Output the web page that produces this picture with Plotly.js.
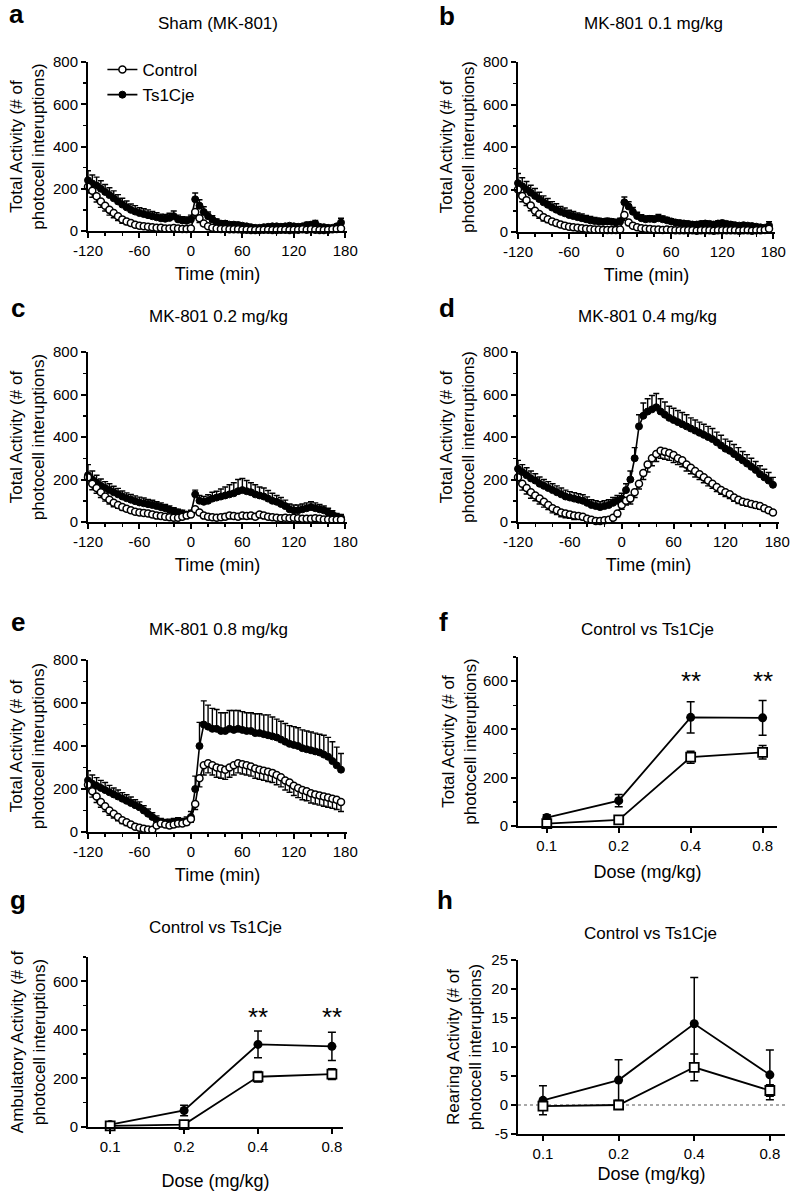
<!DOCTYPE html>
<html>
<head>
<meta charset="utf-8">
<script src="https://cdn.plot.ly/plotly-3.0.1.min.js"></script>
<style>html,body{margin:0;padding:0;background:#fff;}#chart{width:800px;height:1191px;}</style>
</head>
<body>
<div id="chart"></div>
<script>
// ---------- DATA ----------
const time = [-120,-115,-110,-105,-100,-95,-90,-85,-80,-75,
              -70,-65,-60,-55,-50,-45,-40,-35,-30,-25,
              -20,-15,-10,-5,0,5,10,15,20,25,
              30,35,40,45,50,55,60,65,70,75,
              80,85,90,95,100,105,110,115,120,125,
              130,135,140,145,150,155,160,165,170,175];
const timeTicks = [-120,-60,0,60,120,180];
const timeTickText = ['-120','-60','0','60','120','180'];

// a: Sham
const shamCtrl = [210,190,165,140,120,100,85,70,55,45, 38,30,25,22,20,18,15,15,12,12, 14,12,10,10,12,90,60,35,22,15, 12,10,10,8,8,8,6,6,5,5, 5,6,6,5,5,6,6,5,6,6, 8,6,8,6,5,5,6,8,10,12];
const shamCtrlErr = [30,30,28,28,25,25,22,20,18,15, 12,12,10,10,10,8,8,8,6,6, 6,6,5,5,5,30,20,12,8,6, 5,5,5,4,4,4,3,3,3,3, 3,3,3,3,3,3,3,3,3,3, 4,3,4,3,3,3,3,4,5,6];
const shamTs = [240,225,215,200,185,170,155,140,125,112, 100,92,85,80,75,70,65,60,58,62, 70,55,50,48,55,150,120,90,70,55, 42,35,35,30,30,28,25,22,18,15, 15,18,20,22,22,20,22,25,22,20, 22,28,30,35,20,18,15,15,22,40];
const shamTsErr = [45,40,40,38,35,35,35,32,30,30, 28,28,25,25,25,22,22,20,20,22, 25,20,18,18,20,30,28,25,20,18, 15,14,14,12,12,12,10,10,10,8, 8,8,10,10,10,10,10,10,10,10, 10,12,12,15,10,10,8,8,10,20];

// b: 0.1 mg/kg
const d01Ctrl = [200,170,150,125,100,85,70,60,50,42, 35,30,25,22,20,18,15,14,12,12, 10,10,10,10,12,80,45,30,22,18, 15,14,12,12,10,12,10,8,8,8, 8,8,6,8,8,8,6,8,8,8, 8,8,6,8,8,6,8,8,10,15];
const d01CtrlErr = [30,28,25,25,22,20,18,16,14,12, 10,10,8,8,8,6,6,6,5,5, 5,5,5,5,5,25,15,10,8,6, 5,5,5,5,4,4,4,3,3,3, 3,3,3,3,3,3,3,3,3,3, 3,3,3,3,3,3,3,3,4,5];
const d01Ts = [230,215,200,185,170,155,140,128,115,105, 95,88,80,75,70,65,60,55,52,50, 48,50,48,45,50,140,120,95,75,65, 60,62,60,65,60,55,50,45,42,40, 38,35,35,38,40,38,35,40,42,38, 35,32,30,32,30,28,25,22,20,30];
const d01TsErr = [45,40,38,35,35,32,30,30,28,28, 25,25,22,22,20,20,18,18,16,15, 15,15,14,14,15,25,22,20,18,16, 15,15,15,18,15,14,12,12,12,12, 12,12,12,12,12,12,12,12,12,12, 12,12,10,10,10,10,10,10,10,18];

// c: 0.2 mg/kg
const d02Ctrl = [210,180,160,140,120,105,90,80,70,62, 55,48,45,42,40,35,30,28,25,22, 20,20,25,30,35,60,45,30,25,22, 20,22,25,30,28,25,30,28,30,25, 35,30,25,22,20,18,20,18,20,18, 15,15,15,18,15,12,12,10,10,10];
const d02CtrlErr = [30,28,25,25,22,20,18,16,14,12, 12,12,10,10,10,10,8,8,8,8, 8,8,8,10,10,15,12,10,10,10, 10,10,10,12,12,12,12,12,12,12, 12,12,10,10,10,10,10,10,8,8, 8,8,8,8,8,6,6,6,6,6];
const d02Ts = [220,200,185,170,160,150,140,130,120,112, 105,98,92,88,84,80,75,70,65,58, 52,45,40,35,40,130,100,95,100,110, 115,120,125,130,135,145,150,145,140,130, 125,120,110,100,95,85,75,60,55,55, 60,65,70,65,60,55,45,35,25,20];
const d02TsErr = [50,40,35,32,30,30,28,28,26,25, 25,25,25,25,22,22,20,20,18,18, 15,15,15,12,15,20,25,25,28,30, 30,35,40,45,50,55,55,50,45,45, 40,40,38,35,30,30,28,25,25,25, 25,25,25,25,22,20,20,18,15,15];

// d: 0.4 mg/kg
const d04Ctrl = [210,180,160,140,125,110,95,80,65,55, 45,40,35,30,28,25,15,10,5,5, 8,10,20,40,80,100,110,140,180,230, 270,300,320,335,330,325,315,300,290,270, 255,240,225,210,195,180,165,150,140,130, 115,105,95,90,85,80,75,65,55,45];
const d04CtrlErr = [30,30,28,28,25,25,25,22,22,20, 20,20,18,18,15,15,12,10,8,8, 8,10,12,15,20,20,25,25,25,30, 35,35,35,35,35,35,35,30,30,30, 28,28,25,25,25,22,22,20,20,20, 18,18,15,15,15,15,15,15,12,12];
const d04Ts = [250,235,220,205,195,180,170,160,150,140, 130,120,115,110,105,100,90,80,75,70, 75,80,90,100,110,150,200,300,450,500, 520,530,540,520,505,490,480,470,460,450, 440,430,420,410,400,390,375,360,345,335, 320,305,290,275,260,245,225,210,195,175];
const d04TsErr = [40,35,35,35,32,32,30,30,30,30, 30,30,28,28,28,28,28,25,25,25, 25,25,25,25,25,30,40,50,55,60, 60,65,65,60,60,55,55,55,55,55, 50,50,50,50,50,50,48,48,45,45, 45,45,42,42,40,40,40,38,38,35];

// e: 0.8 mg/kg
const d08Ctrl = [220,190,165,140,120,100,85,70,55,45, 35,25,20,15,12,10,30,40,35,30, 35,40,40,45,60,130,250,310,320,310, 300,295,290,300,310,320,315,310,305,295, 290,285,280,275,265,255,240,230,215,205, 195,190,180,175,170,165,160,155,150,140];
const d08CtrlErr = [30,28,28,25,25,22,20,18,16,15, 12,10,10,8,8,8,10,10,10,10, 10,10,10,12,15,25,40,45,45,45, 45,45,45,45,45,45,45,45,45,45, 45,45,45,45,45,45,45,45,45,45, 45,45,45,45,45,45,45,45,45,45];
const d08Ts = [240,225,215,205,195,185,175,165,155,145, 135,125,115,100,85,70,55,45,40,42, 45,48,45,50,70,200,400,500,490,480, 480,470,470,480,475,480,475,470,470,460, 460,455,450,445,440,430,420,410,405,400, 390,385,380,375,370,360,350,330,310,290];
const d08TsErr = [45,40,38,35,35,32,30,30,28,28, 28,25,25,22,22,20,20,18,18,18, 18,18,18,20,25,60,110,110,100,95, 90,85,85,85,90,85,85,85,85,90, 90,90,95,90,85,85,85,85,85,85, 85,85,85,85,85,90,90,90,85,75];

// f, g, h: dose-response
const doses = ['0.1','0.2','0.4','0.8'];
const totCtrl = [10,25,285,305],   totCtrlErr = [6,8,25,28];
const totTs   = [35,105,450,448],  totTsErr   = [12,25,65,72];
const ambCtrl = [5,10,207,218],    ambCtrlErr = [4,6,22,22];
const ambTs   = [10,68,340,332],   ambTsErr   = [6,22,55,58];
const rearCtrl = [-0.2,0,6.5,2.5], rearCtrlErr = [0.5,0.2,2.3,1.0];
const rearTs   = [0.8,4.3,14,5.2], rearTsErr   = [2.5,3.5,8,4.3];
const starDoses = ['0.4','0.8'];
const starTot = [600,600], starAmb = [452,452];
const rearTicks = [-5,0,5,10,15,20,25];
const rearTickText = ['-5','0','5','10','15','20','25'];

// ---------- LAYOUT HELPERS ----------
const FONT = 'Liberation Sans, Arial, Helvetica, sans-serif';
const W = 800, H = 1191;
const dx = (a,b) => [a/W, b/W];
const dy = (top,bot) => [1-bot/H, 1-top/H];
const id = (i, p) => (i===1 ? p : p+i);

const boxes = {
  1:{x:[88,347], y:[62,231]},
  2:{x:[518,775], y:[62,232]},
  3:{x:[88,347], y:[352,522]},
  4:{x:[518,779], y:[352,522]},
  5:{x:[88,347], y:[660,832]},
  6:{x:[518,777], y:[657,826]},
  7:{x:[88,343], y:[957,1127]},
  8:{x:[518,785], y:[960,1134]}
};

const baseAxis = {
  showline:true, linewidth:2, linecolor:'#000', ticks:'outside', ticklen:5,
  tickwidth:2, tickcolor:'#000', showgrid:false, zeroline:false,
  tickfont:{size:15, color:'#000'}, fixedrange:true
};

const layout = {
  width:W, height:H, margin:{l:0,r:0,t:0,b:0},
  paper_bgcolor:'#fff', plot_bgcolor:'#fff',
  font:{family:FONT, size:15, color:'#000'},
  showlegend:true,
  legend:{x:0.128, y:1-52/H, xanchor:'left', yanchor:'top', bgcolor:'rgba(0,0,0,0)',
          font:{size:17}, itemwidth:30, tracegroupgap:0},
  annotations:[], shapes:[]
};

const ytitles = {
  1:'Total Activity (# of<br>photocell interuptions)',
  2:'Total Activity (# of<br>photocell interruptions)',
  3:'Total Activity (# of<br>photocell interuptions)',
  4:'Total Activity (# of<br>photocell interruptions)',
  5:'Total Activity (# of<br>photocell interuptions)',
  6:'Total Activity (# of<br>photocell interuptions)',
  7:'Ambulatory Activity (# of<br>photocell interuptions)',
  8:'Rearing Activity (# of<br>photocell interuptions)'
};

function setAxes(i, xExtra, yExtra) {
  const b = boxes[i];
  layout[id(i,'xaxis')] = Object.assign({}, baseAxis, {domain:dx(b.x[0],b.x[1]), anchor:id(i,'y')}, xExtra);
  layout[id(i,'yaxis')] = Object.assign({}, baseAxis, {domain:dy(b.y[0],b.y[1]), anchor:id(i,'x'),
      title:{text:ytitles[i], font:{size:17}, standoff:yExtra.standoff||4}}, yExtra.axis);
}

const traces = [];

function timePanel(i, ctrl, ctrlErr, ts, tsErr, legend) {
  const xa = id(i,'x'), ya = id(i,'y');
  setAxes(i,
    {range:[-120,182], tickmode:'array', tickvals:timeTicks, ticktext:timeTickText,
     minor:{ticks:'outside', ticklen:3, tickwidth:1.5, tickcolor:'#000', tick0:-120, dtick:20},
     title:{text:'Time (min)', font:{size:18}, standoff:9}},
    {standoff:4, axis:{range:[0,800], tickvals:[0,200,400,600,800],
     minor:{ticks:'outside', ticklen:3, tickwidth:1.5, tickcolor:'#000', tick0:0, dtick:100}}});
  traces.push({
    x:time, y:ts, xaxis:xa, yaxis:ya, type:'scatter', mode:'lines+markers', name:'Ts1Cje',
    legendrank:2, showlegend:legend, cliponaxis:false,
    line:{color:'#000', width:1.6},
    marker:{symbol:'circle', size:7, color:'#000', line:{color:'#000', width:1}},
    error_y:{type:'data', symmetric:false, array:tsErr, arrayminus:tsErr.map(()=>0),
             color:'#000', thickness:1.4, width:3}
  });
  traces.push({
    x:time, y:ctrl, xaxis:xa, yaxis:ya, type:'scatter', mode:'lines+markers', name:'Control',
    legendrank:1, showlegend:legend, cliponaxis:false,
    line:{color:'#000', width:1.6},
    marker:{symbol:'circle', size:7, color:'#fff', line:{color:'#000', width:1.5}},
    error_y:{type:'data', symmetric:false, array:ctrlErr.map(()=>0), arrayminus:ctrlErr,
             color:'#000', thickness:1.4, width:3}
  });
}

function dosePanel(i, ctrl, ctrlErr, ts, tsErr, xrange, yaxisExtra, ystand, xstand) {
  const xa = id(i,'x'), ya = id(i,'y');
  setAxes(i,
    {type:'category', range:xrange, categoryorder:'array', categoryarray:doses,
     title:{text:'Dose (mg/kg)', font:{size:18}, standoff:xstand}},
    {standoff:ystand, axis:yaxisExtra});
  traces.push({
    x:doses, y:ts, xaxis:xa, yaxis:ya, type:'scatter', mode:'lines+markers', name:'Ts1Cje',
    showlegend:false, cliponaxis:false,
    line:{color:'#000', width:1.8},
    marker:{symbol:'circle', size:9, color:'#000'},
    error_y:{type:'data', array:tsErr, color:'#000', thickness:1.5, width:4}
  });
  traces.push({
    x:doses, y:ctrl, xaxis:xa, yaxis:ya, type:'scatter', mode:'lines+markers', name:'Control',
    showlegend:false, cliponaxis:false,
    line:{color:'#000', width:1.8},
    marker:{symbol:'square', size:9, color:'#fff', line:{color:'#000', width:1.8}},
    error_y:{type:'data', array:ctrlErr, color:'#000', thickness:1.5, width:4}
  });
}

timePanel(1, shamCtrl, shamCtrlErr, shamTs, shamTsErr, true);
timePanel(2, d01Ctrl, d01CtrlErr, d01Ts, d01TsErr, false);
timePanel(3, d02Ctrl, d02CtrlErr, d02Ts, d02TsErr, false);
timePanel(4, d04Ctrl, d04CtrlErr, d04Ts, d04TsErr, false);
timePanel(5, d08Ctrl, d08CtrlErr, d08Ts, d08TsErr, false);

const yTot = {range:[0,700], tickvals:[0,200,400,600],
  minor:{ticks:'outside', ticklen:3, tickwidth:1.5, tickcolor:'#000', tick0:0, dtick:100}};
dosePanel(6, totCtrl, totCtrlErr, totTs, totTsErr, [-0.4,3.2], yTot, 2, 12);
dosePanel(7, ambCtrl, ambCtrlErr, ambTs, ambTsErr, [-0.3,3.15], Object.assign({}, yTot), 3, 22);
dosePanel(8, rearCtrl, rearCtrlErr, rearTs, rearTsErr, [-0.33,3.2],
  {range:[-5,25], tickmode:'array', tickvals:rearTicks, ticktext:rearTickText}, 5, 6);

// dotted zero line in h
layout.shapes.push({type:'line', xref:'x8 domain', yref:'y8', x0:0, x1:1, y0:0, y1:0,
  line:{color:'#555', width:1.2, dash:'dot'}, layer:'below'});

// significance stars (category axes -> use category index)
starDoses.forEach((d,k)=>{
  const ci = doses.indexOf(d);
  layout.annotations.push({xref:'x6', yref:'y6', x:ci, y:starTot[k], text:'**', showarrow:false,
    font:{size:26, color:'#000'}, yanchor:'middle'});
  layout.annotations.push({xref:'x7', yref:'y7', x:ci, y:starAmb[k], text:'**', showarrow:false,
    font:{size:26, color:'#000'}, yanchor:'middle'});
});

// panel titles and letters
const titles = [
  ['Sham (MK-801)', 218, 23], ['MK-801 0.1 mg/kg', 653, 23],
  ['MK-801 0.2 mg/kg', 218, 316], ['MK-801 0.4 mg/kg', 647, 316],
  ['MK-801 0.8 mg/kg', 218, 629], ['Control vs Ts1Cje', 647, 629],
  ['Control vs Ts1Cje', 215, 927], ['Control vs Ts1Cje', 650, 933]
];
titles.forEach(t=>layout.annotations.push({xref:'paper', yref:'paper', x:t[1]/W, y:1-t[2]/H,
  text:t[0], showarrow:false, xanchor:'center', yanchor:'middle', font:{size:17, color:'#000'}}));

const letters = [['a',16,14],['b',447,16],['c',18,308],['d',447,308],
                 ['e',18,622],['f',443,622],['g',18,900],['h',445,900]];
letters.forEach(t=>layout.annotations.push({xref:'paper', yref:'paper', x:t[1]/W, y:1-t[2]/H,
  text:'<b>'+t[0]+'</b>', showarrow:false, xanchor:'center', yanchor:'middle',
  font:{size:26, color:'#000', family:FONT}}));

Plotly.newPlot('chart', traces, layout, {staticPlot:true, displayModeBar:false});
</script>
</body>
</html>
